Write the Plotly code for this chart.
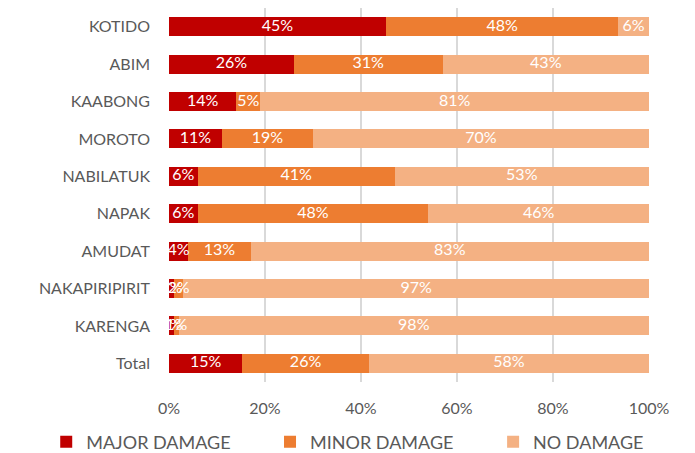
import plotly.graph_objects as go

districts = ["KOTIDO", "ABIM", "KAABONG", "MOROTO", "NABILATUK", "NAPAK",
             "AMUDAT", "NAKAPIRIPIRIT", "KARENGA", "Total"]
major = [45.2, 26, 14, 11, 6, 6, 4, 1, 1, 15.3]
minor = [48.4, 31, 5, 19, 41, 48, 13, 2, 1, 26.3]
no_damage = [6.4, 43, 81, 70, 53, 46, 83, 97, 98, 58.4]
series_names = ["MAJOR DAMAGE", "MINOR DAMAGE", "NO DAMAGE"]
tick_vals = [0, 20, 40, 60, 80, 100]
tick_text = ["0%", "20%", "40%", "60%", "80%", "100%"]

COLORS = ["#C00000", "#ED7D31", "#F4B183"]
FONT = "Lato, 'Open Sans', sans-serif"
LEGENDS = ["legend", "legend2", "legend3"]
LEGEND_X = [0.055, 0.377, 0.698]

fig = go.Figure()
series = [major, minor, no_damage]
for name, vals, color, lg in zip(series_names, series, COLORS, LEGENDS):
    fig.add_trace(go.Bar(
        y=districts, x=vals, name=name, orientation="h", legend=lg,
        marker={"color": color, "line": {"width": 0}},
    ))

# segment labels centred on each piece, allowed to overflow like the original
base = [0] * len(districts)
for vals in series:
    centers = [b + v / 2 for b, v in zip(base, vals)]
    fig.add_trace(go.Scatter(
        y=districts, x=centers, mode="text",
        text=[f"{v:.0f}%" for v in vals],
        textfont={"color": "white", "size": 16, "family": FONT},
        showlegend=False, hoverinfo="skip",
    ))
    base = [b + v for b, v in zip(base, vals)]

# page body has an 8px margin, so margins are shifted by 8px up/left
fig.update_layout(
    barmode="stack",
    bargap=0.49,
    width=695, height=453,
    paper_bgcolor="white", plot_bgcolor="white",
    margin={"l": 161, "r": 54, "t": 0, "b": 79, "autoexpand": False},
    font={"family": FONT, "color": "#595959", "size": 16},
    xaxis={
        "range": [0, 100], "tickvals": tick_vals, "ticktext": tick_text,
        "showgrid": True, "gridcolor": "#D9D9D9", "gridwidth": 1.5,
        "zeroline": False, "showline": False, "ticklabelstandoff": 15,
        "tickfont": {"size": 16},
    },
    yaxis={
        "categoryorder": "array", "categoryarray": districts,
        "autorange": "reversed", "showgrid": False, "ticklabelstandoff": 18,
        "tickfont": {"size": 16},
    },
)
for lg, lx in zip(LEGENDS, LEGEND_X):
    fig.update_layout({lg: {
        "orientation": "h", "xref": "container", "x": lx, "xanchor": "left",
        "yref": "container", "y": 0.042, "yanchor": "middle",
        "font": {"size": 18}, "bgcolor": "rgba(0,0,0,0)",
    }})

fig.write_html("out.html")
